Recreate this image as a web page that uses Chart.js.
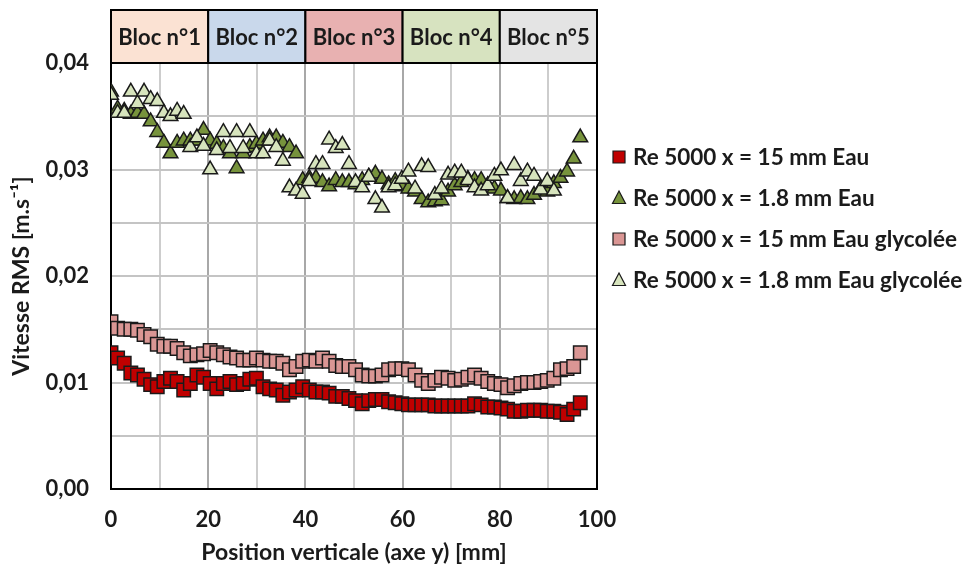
<!DOCTYPE html>
<html>
<head>
<meta charset="utf-8">
<script src="https://cdn.jsdelivr.net/npm/chart.js@4.4.1/dist/chart.umd.min.js"></script>
<style>
  html, body { margin: 0; padding: 0; background: #fff; }
</style>
</head>
<body>
<canvas id="myChart" width="979" height="572"></canvas>
<script>
// positions verticales (mm)
const positions = [
  0.00, 1.36, 2.72, 4.08, 5.44, 6.80, 8.16, 9.52, 10.88, 12.24,
  13.60, 14.96, 16.32, 17.68, 19.04, 20.40, 21.76, 23.12, 24.48, 25.84,
  27.20, 28.56, 29.92, 31.28, 32.64, 34.00, 35.36, 36.72, 38.08, 39.44,
  40.80, 42.16, 43.52, 44.88, 46.24, 47.60, 48.96, 50.32, 51.68, 53.04,
  54.40, 55.76, 57.12, 58.48, 59.84, 61.20, 62.56, 63.92, 65.28, 66.64,
  68.00, 69.36, 70.72, 72.08, 73.44, 74.80, 76.16, 77.52, 78.88, 80.24,
  81.60, 82.96, 84.32, 85.68, 87.04, 88.40, 89.76, 91.12, 92.48, 93.84,
  95.20, 96.56
];

const eau15 = [
  0.0128, 0.0123, 0.0118, 0.0109, 0.0107, 0.0103, 0.0098, 0.0096, 0.0101, 0.0104,
  0.0101, 0.0093, 0.0099, 0.0107, 0.0105, 0.0099, 0.0094, 0.0099, 0.0101, 0.0098,
  0.0099, 0.0103, 0.0104, 0.0096, 0.0094, 0.0093, 0.0088, 0.0091, 0.0093, 0.0096,
  0.0093, 0.0091, 0.0091, 0.0090, 0.0087, 0.0087, 0.0085, 0.0083, 0.0080, 0.0083,
  0.0084, 0.0084, 0.0082, 0.0081, 0.0080, 0.0079, 0.0079, 0.0079, 0.0079, 0.0078,
  0.0078, 0.0078, 0.0078, 0.0078, 0.0078, 0.0080, 0.0079, 0.0077, 0.0077, 0.0076,
  0.0075, 0.0073, 0.0073, 0.0074, 0.0074, 0.0074, 0.0073, 0.0073, 0.0072, 0.0070,
  0.0075, 0.0081
];

const eau18 = [
  0.0373, 0.0357, 0.0355, 0.0352, 0.0353, 0.0352, 0.0345, 0.0335, 0.0325, 0.0315,
  0.0325, 0.0327, 0.0327, 0.0327, 0.0337, 0.0327, 0.0324, 0.0320, 0.0315, 0.0301,
  0.0315, 0.0321, 0.0324, 0.0327, 0.0330, 0.0330, 0.0325, 0.0321, 0.0315, 0.0290,
  0.0292, 0.0292, 0.0288, 0.0284, 0.0290, 0.0288, 0.0288, 0.0286, 0.0290, 0.0293,
  0.0296, 0.0291, 0.0286, 0.0289, 0.0284, 0.0282, 0.0279, 0.0272, 0.0269, 0.0270,
  0.0271, 0.0279, 0.0285, 0.0288, 0.0291, 0.0290, 0.0290, 0.0285, 0.0282, 0.0280,
  0.0273, 0.0272, 0.0273, 0.0272, 0.0276, 0.0282, 0.0279, 0.0287, 0.0292, 0.0298,
  0.0310, 0.0330
];

const glyco15 = [
  0.0157, 0.0151, 0.0150, 0.0150, 0.0149, 0.0145, 0.0143, 0.0136, 0.0134, 0.0134,
  0.0132, 0.0128, 0.0125, 0.0126, 0.0127, 0.0130, 0.0128, 0.0126, 0.0124, 0.0123,
  0.0121, 0.0121, 0.0123, 0.0121, 0.0120, 0.0120, 0.0118, 0.0112, 0.0115, 0.0120,
  0.0121, 0.0120, 0.0123, 0.0120, 0.0116, 0.0115, 0.0115, 0.0112, 0.0107, 0.0106,
  0.0106, 0.0107, 0.0112, 0.0113, 0.0113, 0.0112, 0.0107, 0.0102, 0.0099, 0.0102,
  0.0105, 0.0104, 0.0102, 0.0103, 0.0105, 0.0107, 0.0104, 0.0101, 0.0099, 0.0098,
  0.0095, 0.0097, 0.0099, 0.0100, 0.0100, 0.0101, 0.0102, 0.0104, 0.0112, 0.0113,
  0.0115, 0.0128
];

const glyco18 = [
  0.0370, 0.0353, 0.0353, 0.0373, 0.0362, 0.0373, 0.0366, 0.0364, 0.0353, 0.0350,
  0.0355, 0.0352, 0.0321, 0.0330, 0.0322, 0.0300, 0.0318, 0.0335, 0.0320, 0.0335,
  0.0320, 0.0335, 0.0315, 0.0315, 0.0327, 0.0321, 0.0308, 0.0283, 0.0280, 0.0277,
  0.0289, 0.0305, 0.0305, 0.0328, 0.0320, 0.0323, 0.0305, 0.0288, 0.0283, 0.0293,
  0.0272, 0.0264, 0.0283, 0.0285, 0.0291, 0.0298, 0.0282, 0.0303, 0.0302, 0.0276,
  0.0282, 0.0295, 0.0297, 0.0297, 0.0290, 0.0283, 0.0280, 0.0285, 0.0294, 0.0299,
  0.0273, 0.0304, 0.0289, 0.0298, 0.0294, 0.0281, 0.0289, 0.0280
];

const seriesLabels = [
  'Re 5000 x = 15 mm Eau',
  'Re 5000 x = 1.8 mm Eau',
  'Re 5000 x = 15 mm Eau glycolée',
  'Re 5000 x = 1.8 mm Eau glycolée'
];

const blocLabels = ['Bloc n°1', 'Bloc n°2', 'Bloc n°3', 'Bloc n°4', 'Bloc n°5'];
const blocEdges = [0, 20, 40, 60, 80, 100];
const blocColors = ['#fbe2d3', '#c9d8eb', '#e8b1b1', '#d7e3c0', '#e4e4e4'];

const FONT = 'Lato, "Liberation Sans", sans-serif';

function toPoints(vals) {
  return vals.map((v, i) => ({ x: positions[i], y: v }));
}

// bandeau "Bloc n°x" au dessus de la zone de tracé + cadre droit
const blocPlugin = {
  id: 'blocs',
  afterDraw(chart) {
    const ctx = chart.ctx;
    const xs = chart.scales.x;
    const area = chart.chartArea;
    const top = 10;
    ctx.save();
    for (let i = 0; i < blocLabels.length; i++) {
      const x0 = xs.getPixelForValue(blocEdges[i]);
      const x1 = xs.getPixelForValue(blocEdges[i + 1]);
      ctx.fillStyle = blocColors[i];
      ctx.fillRect(x0, top, x1 - x0, area.top - top);
      ctx.lineWidth = 2;
      ctx.strokeStyle = '#000';
      ctx.strokeRect(x0, top, x1 - x0, area.top - top);
      ctx.fillStyle = '#1b1b1b';
      ctx.font = 'bold 22px ' + FONT;
      ctx.textAlign = 'center';
      ctx.textBaseline = 'middle';
      ctx.fillText(blocLabels[i], (x0 + x1) / 2, (top + area.top) / 2 + 1);
    }
    // right border
    ctx.beginPath();
    ctx.moveTo(area.right, area.top);
    ctx.lineTo(area.right, area.bottom);
    ctx.stroke();
    ctx.restore();
  }
};

// légende à droite
const legendPlugin = {
  id: 'legendeDroite',
  afterDraw(chart) {
    const ctx = chart.ctx;
    const area = chart.chartArea;
    const x = area.right + 22;
    let y = 157;
    ctx.save();
    chart.data.datasets.forEach(ds => {
      ctx.fillStyle = ds.backgroundColor;
      ctx.strokeStyle = '#1a1a1a';
      ctx.lineWidth = 1.2;
      ctx.beginPath();
      if (ds.pointStyle === 'rect') {
        ctx.rect(x - 6, y - 6, 12, 12);
      } else {
        ctx.moveTo(x, y - 7);
        ctx.lineTo(x + 6.5, y + 5.5);
        ctx.lineTo(x - 6.5, y + 5.5);
        ctx.closePath();
      }
      ctx.fill();
      ctx.stroke();
      ctx.fillStyle = '#1b1b1b';
      ctx.font = 'bold 22.5px ' + FONT;
      ctx.textAlign = 'left';
      ctx.textBaseline = 'middle';
      ctx.fillText(ds.label, x + 14, y + 1);
      y += 41;
    });
    ctx.restore();
  }
};

const ctx = document.getElementById('myChart');

new Chart(ctx, {
  type: 'scatter',
  data: {
    datasets: [
      {
        label: seriesLabels[0],
        data: toPoints(eau15),
        pointStyle: 'rect',
        pointRadius: 9.5,
        backgroundColor: '#c00000',
        borderColor: '#1a1a1a',
        borderWidth: 1.5,
        order: 4
      },
      {
        label: seriesLabels[1],
        data: toPoints(eau18),
        pointStyle: 'triangle',
        pointRadius: 8.5,
        backgroundColor: '#77933c',
        borderColor: '#1a1a1a',
        borderWidth: 1.5,
        order: 3
      },
      {
        label: seriesLabels[2],
        data: toPoints(glyco15),
        pointStyle: 'rect',
        pointRadius: 9.5,
        backgroundColor: '#da9694',
        borderColor: '#1a1a1a',
        borderWidth: 1.5,
        order: 2
      },
      {
        label: seriesLabels[3],
        data: toPoints(glyco18),
        pointStyle: 'triangle',
        pointRadius: 8.5,
        backgroundColor: '#d7e4bd',
        borderColor: '#1a1a1a',
        borderWidth: 1.5,
        order: 1
      }
    ]
  },
  options: {
    responsive: false,
    animation: false,
    layout: {
      padding: { top: 63, right: 382, left: 0, bottom: 0 }
    },
    plugins: {
      legend: { display: false },
      tooltip: { enabled: false }
    },
    scales: {
      x: {
        type: 'linear',
        min: 0,
        max: 100,
        afterFit(scale) { scale.height = 83; },
        border: { display: true, color: '#000', width: 2 },
        grid: {
          drawTicks: false,
          lineWidth: 2,
          color: c => (c.tick && c.tick.value % 20 === 0) ? '#a8a8a8' : '#cdcdcd'
        },
        ticks: {
          stepSize: 10,
          padding: 18,
          color: '#1b1b1b',
          font: { family: FONT, size: 22, weight: 'bold' },
          callback: v => (v % 20 === 0 ? v : '')
        },
        title: {
          display: true,
          text: 'Position verticale (axe y) [mm]',
          color: '#1b1b1b',
          font: { family: FONT, size: 23, weight: 'bold' },
          padding: { top: 0, bottom: 6 }
        }
      },
      y: {
        min: 0,
        max: 0.04,
        afterFit(scale) { scale.width = 111; },
        border: { display: true, color: '#000', width: 2 },
        grid: {
          drawTicks: false,
          lineWidth: 2,
          color: '#c4c4c4'
        },
        ticks: {
          stepSize: 0.005,
          padding: 22,
          color: '#1b1b1b',
          font: { family: FONT, size: 22, weight: 'bold' },
          callback: v => (Math.round(v * 1000) % 10 === 0 ? v.toFixed(2).replace('.', ',') : '')
        },
        title: {
          display: true,
          text: 'Vitesse RMS [m.s⁻¹]',
          color: '#1b1b1b',
          font: { family: FONT, size: 23, weight: 'bold' },
          padding: { top: 8, bottom: 0 }
        }
      }
    }
  },
  plugins: [blocPlugin, legendPlugin]
});
</script>
</body>
</html>
